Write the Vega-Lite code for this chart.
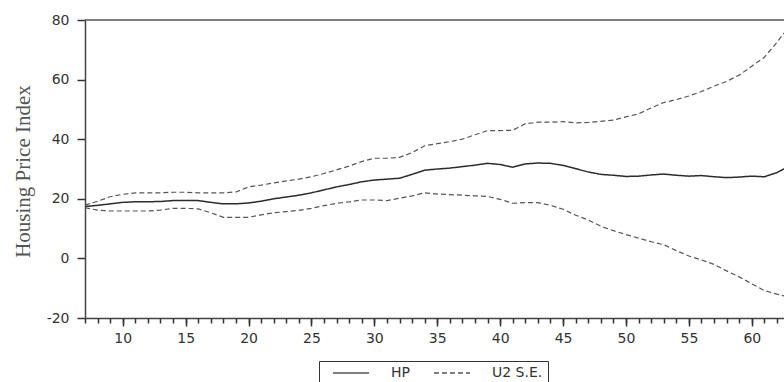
{
  "$schema": "https://vega.github.io/schema/vega-lite/v6.json",
  "width": 699,
  "height": 298,
  "autosize": {"type": "none"},
  "padding": {"left": 85, "top": 20, "right": 0, "bottom": 64},
  "background": "white",
  "config": {
    "view": {"stroke": null},
    "font": "DejaVu Sans",
    "axis": {
      "grid": false,
      "domainColor": "#444",
      "domainWidth": 1.5,
      "tickColor": "#333",
      "tickWidth": 1.5,
      "labelColor": "#333",
      "labelFont": "DejaVu Sans",
      "labelFontSize": 14
    },
    "axisY": {
      "titleFont": "Liberation Serif",
      "titleFontSize": 21,
      "titleFontWeight": "normal",
      "titleColor": "#555",
      "titleX": -62,
      "titleY": 151,
      "titleAngle": -90,
      "titleAlign": "center",
      "titleBaseline": "middle",
      "tickSize": 8,
      "labelPadding": 8
    }
  },
  "data": {"values": [
    {"t": 7, "HP": 17.4, "upper": 17.9, "lower": 17.0},
    {"t": 8, "HP": 17.8, "upper": 19.2, "lower": 16.2},
    {"t": 9, "HP": 18.3, "upper": 20.7, "lower": 15.9},
    {"t": 10, "HP": 18.8, "upper": 21.5, "lower": 15.9},
    {"t": 11, "HP": 19.0, "upper": 22.0, "lower": 15.9},
    {"t": 12, "HP": 19.0, "upper": 22.0, "lower": 15.9},
    {"t": 13, "HP": 19.1, "upper": 22.0, "lower": 16.2},
    {"t": 14, "HP": 19.4, "upper": 22.2, "lower": 16.8},
    {"t": 15, "HP": 19.4, "upper": 22.2, "lower": 16.8},
    {"t": 16, "HP": 19.4, "upper": 22.0, "lower": 16.6},
    {"t": 17, "HP": 18.8, "upper": 22.0, "lower": 15.3},
    {"t": 18, "HP": 18.3, "upper": 22.0, "lower": 13.8},
    {"t": 19, "HP": 18.3, "upper": 22.3, "lower": 13.8},
    {"t": 20, "HP": 18.6, "upper": 24.0, "lower": 13.8},
    {"t": 21, "HP": 19.2, "upper": 24.6, "lower": 14.6},
    {"t": 22, "HP": 20.0, "upper": 25.3, "lower": 15.3},
    {"t": 23, "HP": 20.6, "upper": 26.0, "lower": 15.7},
    {"t": 24, "HP": 21.2, "upper": 26.6, "lower": 16.1},
    {"t": 25, "HP": 22.0, "upper": 27.4, "lower": 16.8},
    {"t": 26, "HP": 23.0, "upper": 28.5, "lower": 17.7},
    {"t": 27, "HP": 24.0, "upper": 29.7, "lower": 18.5},
    {"t": 28, "HP": 24.8, "upper": 31.0, "lower": 19.0},
    {"t": 29, "HP": 25.7, "upper": 32.5, "lower": 19.6},
    {"t": 30, "HP": 26.3, "upper": 33.6, "lower": 19.6},
    {"t": 31, "HP": 26.6, "upper": 33.6, "lower": 19.4},
    {"t": 32, "HP": 26.9, "upper": 33.9, "lower": 20.2},
    {"t": 33, "HP": 28.2, "upper": 35.5, "lower": 21.0},
    {"t": 34, "HP": 29.6, "upper": 37.8, "lower": 22.0},
    {"t": 35, "HP": 30.0, "upper": 38.5, "lower": 21.6},
    {"t": 36, "HP": 30.3, "upper": 39.2, "lower": 21.4},
    {"t": 37, "HP": 30.8, "upper": 40.0, "lower": 21.2},
    {"t": 38, "HP": 31.3, "upper": 41.5, "lower": 21.0},
    {"t": 39, "HP": 31.9, "upper": 42.9, "lower": 20.8},
    {"t": 40, "HP": 31.5, "upper": 42.9, "lower": 19.8},
    {"t": 41, "HP": 30.6, "upper": 43.0, "lower": 18.5},
    {"t": 42, "HP": 31.7, "upper": 45.2, "lower": 18.7},
    {"t": 43, "HP": 32.0, "upper": 45.7, "lower": 18.7},
    {"t": 44, "HP": 31.9, "upper": 45.7, "lower": 17.8},
    {"t": 45, "HP": 31.2, "upper": 45.9, "lower": 16.5},
    {"t": 46, "HP": 30.1, "upper": 45.5, "lower": 14.5},
    {"t": 47, "HP": 29.0, "upper": 45.6, "lower": 12.9},
    {"t": 48, "HP": 28.2, "upper": 46.0, "lower": 10.8},
    {"t": 49, "HP": 27.9, "upper": 46.4, "lower": 9.3},
    {"t": 50, "HP": 27.5, "upper": 47.5, "lower": 8.0},
    {"t": 51, "HP": 27.6, "upper": 48.5, "lower": 6.8},
    {"t": 52, "HP": 28.0, "upper": 50.5, "lower": 5.6},
    {"t": 53, "HP": 28.3, "upper": 52.3, "lower": 4.6},
    {"t": 54, "HP": 27.9, "upper": 53.3, "lower": 2.6},
    {"t": 55, "HP": 27.6, "upper": 54.5, "lower": 0.8},
    {"t": 56, "HP": 27.8, "upper": 56.0, "lower": -0.5},
    {"t": 57, "HP": 27.4, "upper": 57.8, "lower": -2.0},
    {"t": 58, "HP": 27.1, "upper": 59.4, "lower": -4.2},
    {"t": 59, "HP": 27.3, "upper": 61.5, "lower": -6.2},
    {"t": 60, "HP": 27.6, "upper": 64.5, "lower": -8.5},
    {"t": 61, "HP": 27.4, "upper": 67.5, "lower": -10.8},
    {"t": 62, "HP": 28.8, "upper": 72.5, "lower": -12.0},
    {"t": 63, "HP": 31.0, "upper": 78.0, "lower": -13.0}
  ]},
  "layer": [
    {
      "mark": {"type": "line", "color": "#2b2b2b", "strokeWidth": 1.5, "clip": true},
      "encoding": {
        "x": {
          "field": "t", "type": "quantitative",
          "scale": {"domain": [7, 62.56], "nice": false, "zero": false},
          "axis": {"orient": "bottom", "values": [10, 15, 20, 25, 30, 35, 40, 45, 50, 55, 60], "tickSize": 8, "labelPadding": 5, "title": null, "domain": true}
        },
        "y": {
          "field": "HP", "type": "quantitative",
          "scale": {"domain": [-20, 80], "nice": false, "zero": false},
          "axis": {"values": [-20, 0, 20, 40, 60, 80], "labelExpr": "datum.value < 0 ? '-' + abs(datum.value) : '' + datum.value"},
          "title": "Housing Price Index"
        },
        "strokeDash": {
          "datum": "HP", "type": "nominal",
          "scale": {"domain": ["HP", "U2 S.E."], "range": [[1, 0], [5, 3]]},
          "legend": {
            "orient": "none",
            "legendX": 234,
            "legendY": 341,
            "direction": "horizontal",
            "title": null,
            "symbolType": "stroke",
            "symbolSize": 1300,
            "symbolStrokeWidth": 1.5,
            "symbolStrokeColor": "#333",
            "symbolOffset": 8,
            "labelOffset": 21,
            "clipHeight": 14,
            "padding": 5,
            "strokeColor": "#333",
            "columnPadding": 15,
            "labelFont": "DejaVu Sans",
            "labelFontSize": 14,
            "labelColor": "#333"
          }
        }
      }
    },
    {
      "mark": {"type": "line", "color": "#555", "strokeWidth": 1.2, "clip": true},
      "transform": [{"fold": ["upper", "lower"], "as": ["band", "value"]}],
      "encoding": {
        "x": {
          "field": "t", "type": "quantitative",
          "scale": {"domain": [7, 62.56], "nice": false, "zero": false},
          "axis": {"orient": "bottom", "values": [7, 8, 9, 10, 11, 12, 13, 14, 15, 16, 17, 18, 19, 20, 21, 22, 23, 24, 25, 26, 27, 28, 29, 30, 31, 32, 33, 34, 35, 36, 37, 38, 39, 40, 41, 42, 43, 44, 45, 46, 47, 48, 49, 50, 51, 52, 53, 54, 55, 56, 57, 58, 59, 60, 61, 62], "tickSize": 5, "tickColor": "#333", "labels": false, "domain": false, "title": null}
        },
        "y": {
          "field": "value", "type": "quantitative",
          "scale": {"domain": [-20, 80], "nice": false, "zero": false},
          "title": "Housing Price Index"
        },
        "detail": {"field": "band", "type": "nominal"},
        "strokeDash": {"datum": "U2 S.E.", "type": "nominal"}
      }
    },
    {
      "data": {"values": [{}]},
      "mark": {"type": "rule", "color": "#555", "strokeWidth": 1.5},
      "encoding": {
        "y": {"datum": 80, "type": "quantitative", "title": "Housing Price Index"}
      }
    }
  ],
  "resolve": {"axis": {"x": "independent"}}
}
